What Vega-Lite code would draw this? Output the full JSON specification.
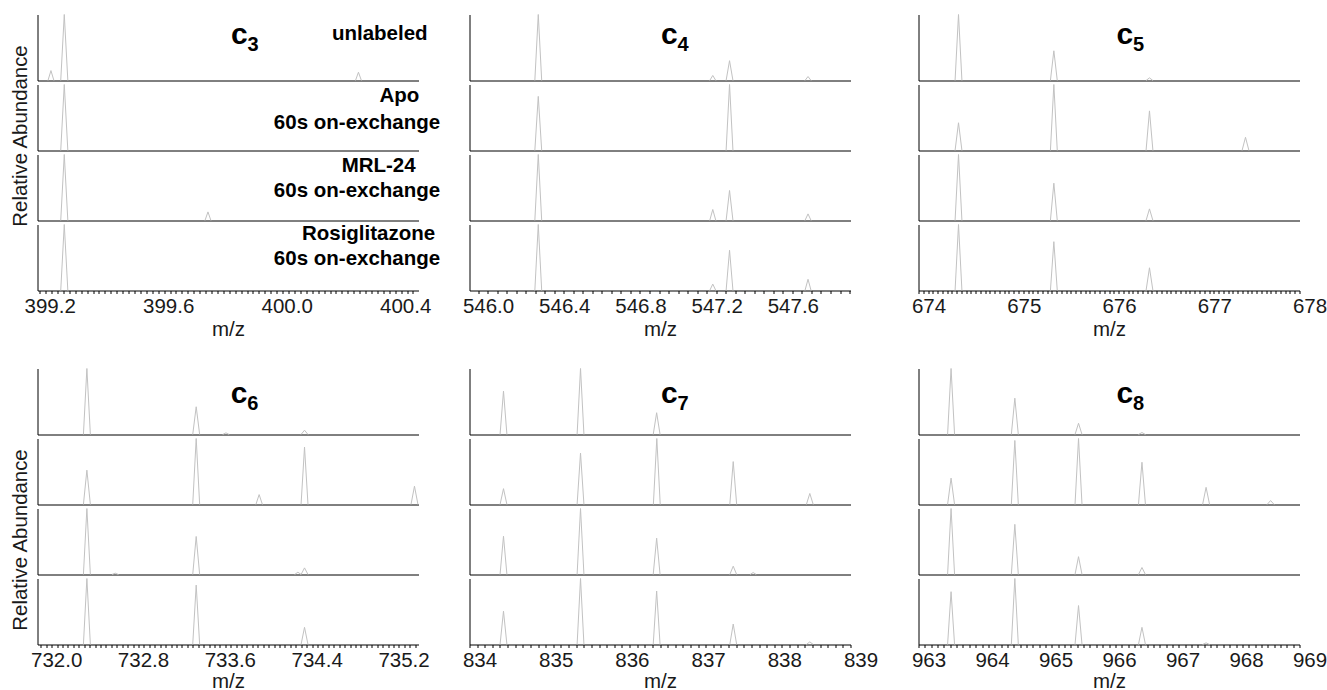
{
"$schema": "https://vega.github.io/schema/vega-lite/v6.json",
"padding": {"left": 10.5, "top": 13.5, "right": 2, "bottom": 0},
"autosize": {"type": "pad"},
"columns": 5,
"spacing": {"row": 4, "column": 0},
"bounds": "flush",
"config": {
 "view": {"stroke": null},
 "font": "Liberation Sans",
 "axis": {"grid": false, "domainColor": "#000", "domainWidth": 1, "ticks": false, "labels": false, "zindex": 1},
 "axisX": {"tickColor": "#000", "tickWidth": 1, "tickSize": 3, "labelFont": "Liberation Sans", "labelFontSize": 20.5, "labelColor": "#1a1a1a", "labelFlush": false, "labelOverlap": false, "labelOffset": 10, "labelPadding": 3, "titleFont": "Liberation Sans", "titleFontSize": 20.5, "titleFontWeight": "normal", "titleColor": "#1a1a1a", "titlePadding": 2},
 "axisY": {"titleFont": "Liberation Sans", "titleFontSize": 20.4, "titleFontWeight": "normal", "titleColor": "#1a1a1a"},
 "rule": {"color": "#c2c2c2", "strokeWidth": 1}
},
"datasets": {"pk": [
{"p":"c3","c":"u","mz":399.238,"lo":399.228,"hi":399.248,"h":0.15},
{"p":"c3","c":"u","mz":399.283,"lo":399.271,"hi":399.295,"h":1},
{"p":"c3","c":"u","mz":400.276,"lo":400.266,"hi":400.286,"h":0.125},
{"p":"c3","c":"a","mz":399.283,"lo":399.271,"hi":399.295,"h":1},
{"p":"c3","c":"m","mz":399.283,"lo":399.271,"hi":399.295,"h":1},
{"p":"c3","c":"m","mz":399.768,"lo":399.758,"hi":399.778,"h":0.13},
{"p":"c3","c":"r","mz":399.283,"lo":399.271,"hi":399.295,"h":1},
{"p":"c4","c":"u","mz":546.316,"lo":546.298,"hi":546.334,"h":1},
{"p":"c4","c":"u","mz":547.232,"lo":547.216,"hi":547.248,"h":0.076},
{"p":"c4","c":"u","mz":547.32,"lo":547.302,"hi":547.338,"h":0.3},
{"p":"c4","c":"u","mz":547.732,"lo":547.716,"hi":547.748,"h":0.06},
{"p":"c4","c":"a","mz":546.316,"lo":546.298,"hi":546.334,"h":0.82},
{"p":"c4","c":"a","mz":547.32,"lo":547.302,"hi":547.338,"h":1},
{"p":"c4","c":"m","mz":546.316,"lo":546.298,"hi":546.334,"h":1},
{"p":"c4","c":"m","mz":547.232,"lo":547.216,"hi":547.248,"h":0.167},
{"p":"c4","c":"m","mz":547.32,"lo":547.302,"hi":547.338,"h":0.455},
{"p":"c4","c":"m","mz":547.732,"lo":547.716,"hi":547.748,"h":0.1},
{"p":"c4","c":"r","mz":546.316,"lo":546.298,"hi":546.334,"h":1},
{"p":"c4","c":"r","mz":547.232,"lo":547.216,"hi":547.248,"h":0.097},
{"p":"c4","c":"r","mz":547.32,"lo":547.302,"hi":547.338,"h":0.61},
{"p":"c4","c":"r","mz":547.732,"lo":547.716,"hi":547.748,"h":0.17},
{"p":"c5","c":"u","mz":674.42,"lo":674.384,"hi":674.456,"h":1},
{"p":"c5","c":"u","mz":675.421,"lo":675.385,"hi":675.457,"h":0.45},
{"p":"c5","c":"u","mz":676.425,"lo":676.389,"hi":676.461,"h":0.04},
{"p":"c5","c":"a","mz":674.42,"lo":674.384,"hi":674.456,"h":0.42},
{"p":"c5","c":"a","mz":675.421,"lo":675.385,"hi":675.457,"h":1},
{"p":"c5","c":"a","mz":676.425,"lo":676.389,"hi":676.461,"h":0.6},
{"p":"c5","c":"a","mz":677.433,"lo":677.397,"hi":677.469,"h":0.2},
{"p":"c5","c":"m","mz":674.42,"lo":674.384,"hi":674.456,"h":1},
{"p":"c5","c":"m","mz":675.421,"lo":675.385,"hi":675.457,"h":0.565},
{"p":"c5","c":"m","mz":676.425,"lo":676.389,"hi":676.461,"h":0.176},
{"p":"c5","c":"r","mz":674.42,"lo":674.384,"hi":674.456,"h":1},
{"p":"c5","c":"r","mz":675.421,"lo":675.385,"hi":675.457,"h":0.74},
{"p":"c5","c":"r","mz":676.425,"lo":676.389,"hi":676.461,"h":0.344},
{"p":"c6","c":"u","mz":732.375,"lo":732.343,"hi":732.407,"h":1},
{"p":"c6","c":"u","mz":733.382,"lo":733.35,"hi":733.414,"h":0.42},
{"p":"c6","c":"u","mz":733.656,"lo":733.626,"hi":733.686,"h":0.025},
{"p":"c6","c":"u","mz":734.38,"lo":734.348,"hi":734.412,"h":0.065},
{"p":"c6","c":"a","mz":732.375,"lo":732.343,"hi":732.407,"h":0.52},
{"p":"c6","c":"a","mz":733.382,"lo":733.35,"hi":733.414,"h":1},
{"p":"c6","c":"a","mz":733.962,"lo":733.932,"hi":733.992,"h":0.15},
{"p":"c6","c":"a","mz":734.38,"lo":734.348,"hi":734.412,"h":0.87},
{"p":"c6","c":"a","mz":735.393,"lo":735.361,"hi":735.425,"h":0.277},
{"p":"c6","c":"m","mz":732.375,"lo":732.343,"hi":732.407,"h":1},
{"p":"c6","c":"m","mz":732.636,"lo":732.606,"hi":732.666,"h":0.02},
{"p":"c6","c":"m","mz":733.382,"lo":733.35,"hi":733.414,"h":0.576},
{"p":"c6","c":"m","mz":734.319,"lo":734.289,"hi":734.349,"h":0.035},
{"p":"c6","c":"m","mz":734.38,"lo":734.348,"hi":734.412,"h":0.1},
{"p":"c6","c":"r","mz":732.375,"lo":732.343,"hi":732.407,"h":1},
{"p":"c6","c":"r","mz":733.382,"lo":733.35,"hi":733.414,"h":0.9},
{"p":"c6","c":"r","mz":734.38,"lo":734.348,"hi":734.412,"h":0.26},
{"p":"c7","c":"u","mz":834.446,"lo":834.401,"hi":834.491,"h":0.657},
{"p":"c7","c":"u","mz":835.457,"lo":835.412,"hi":835.502,"h":1},
{"p":"c7","c":"u","mz":836.456,"lo":836.411,"hi":836.501,"h":0.33},
{"p":"c7","c":"a","mz":834.446,"lo":834.401,"hi":834.491,"h":0.24},
{"p":"c7","c":"a","mz":835.457,"lo":835.412,"hi":835.502,"h":0.78},
{"p":"c7","c":"a","mz":836.458,"lo":836.413,"hi":836.503,"h":1},
{"p":"c7","c":"a","mz":837.461,"lo":837.416,"hi":837.506,"h":0.65},
{"p":"c7","c":"a","mz":838.466,"lo":838.421,"hi":838.511,"h":0.167},
{"p":"c7","c":"m","mz":834.446,"lo":834.401,"hi":834.491,"h":0.58},
{"p":"c7","c":"m","mz":835.457,"lo":835.412,"hi":835.502,"h":1},
{"p":"c7","c":"m","mz":836.456,"lo":836.411,"hi":836.501,"h":0.55},
{"p":"c7","c":"m","mz":837.461,"lo":837.416,"hi":837.506,"h":0.126},
{"p":"c7","c":"m","mz":837.723,"lo":837.683,"hi":837.763,"h":0.03},
{"p":"c7","c":"r","mz":834.446,"lo":834.401,"hi":834.491,"h":0.505},
{"p":"c7","c":"r","mz":835.457,"lo":835.412,"hi":835.502,"h":1},
{"p":"c7","c":"r","mz":836.456,"lo":836.411,"hi":836.501,"h":0.81},
{"p":"c7","c":"r","mz":837.461,"lo":837.416,"hi":837.506,"h":0.31},
{"p":"c7","c":"r","mz":838.466,"lo":838.421,"hi":838.511,"h":0.04},
{"p":"c8","c":"u","mz":963.513,"lo":963.458,"hi":963.568,"h":1},
{"p":"c8","c":"u","mz":964.517,"lo":964.462,"hi":964.572,"h":0.55},
{"p":"c8","c":"u","mz":965.52,"lo":965.465,"hi":965.575,"h":0.17},
{"p":"c8","c":"u","mz":966.519,"lo":966.464,"hi":966.574,"h":0.03},
{"p":"c8","c":"a","mz":963.513,"lo":963.458,"hi":963.568,"h":0.4},
{"p":"c8","c":"a","mz":964.517,"lo":964.462,"hi":964.572,"h":0.97},
{"p":"c8","c":"a","mz":965.52,"lo":965.465,"hi":965.575,"h":1},
{"p":"c8","c":"a","mz":966.519,"lo":966.464,"hi":966.574,"h":0.64},
{"p":"c8","c":"a","mz":967.529,"lo":967.474,"hi":967.584,"h":0.26},
{"p":"c8","c":"a","mz":968.545,"lo":968.49,"hi":968.6,"h":0.06},
{"p":"c8","c":"m","mz":963.513,"lo":963.458,"hi":963.568,"h":1},
{"p":"c8","c":"m","mz":964.517,"lo":964.462,"hi":964.572,"h":0.76},
{"p":"c8","c":"m","mz":965.52,"lo":965.465,"hi":965.575,"h":0.27},
{"p":"c8","c":"m","mz":966.519,"lo":966.464,"hi":966.574,"h":0.106},
{"p":"c8","c":"r","mz":963.513,"lo":963.458,"hi":963.568,"h":0.8},
{"p":"c8","c":"r","mz":964.517,"lo":964.462,"hi":964.572,"h":1},
{"p":"c8","c":"r","mz":965.52,"lo":965.465,"hi":965.575,"h":0.59},
{"p":"c8","c":"r","mz":966.519,"lo":966.464,"hi":966.574,"h":0.26},
{"p":"c8","c":"r","mz":967.529,"lo":967.474,"hi":967.584,"h":0.025}
]},
"concat": [
{"width":381,"height":66,"layer":[
 {"data":{"name":"pk"},"transform":[{"filter":"datum.p=='c3'&&datum.c=='u'"}],"mark":"rule","encoding":{"x":{"field":"mz","type":"quantitative","scale":{"domain":[399.1926,400.4787],"nice":false,"zero":false},"axis":{"title":null}},"x2":{"field":"lo"},"y":{"field":"h","type":"quantitative","scale":{"domain":[0,1],"nice":false},"axis":{"title":"Relative Abundance","titleX":-16.6,"titleY":121,"titleBaseline":"middle"}},"y2":{"datum":0}}},
 {"data":{"name":"pk"},"transform":[{"filter":"datum.p=='c3'&&datum.c=='u'"}],"mark":"rule","encoding":{"x":{"field":"mz","type":"quantitative"},"x2":{"field":"hi"},"y":{"field":"h","type":"quantitative"},"y2":{"datum":0}}},
 {"data":{"values":[{"k":1}]},"mark":{"type":"text","align":"right","baseline":"alphabetic","font":"Liberation Sans","fontWeight":"bold","fontSize":20.5,"fill":"#000"},"encoding":{"text":{"value":"unlabeled"},"x":{"datum":400.5094,"type":"quantitative"},"y":{"datum":0.617,"type":"quantitative"}}},
 {"data":{"values":[{"k":1}]},"mark":{"type":"text","align":"left","baseline":"alphabetic","font":"Liberation Sans","fontWeight":"bold","fontSize":30,"fill":"#000"},"encoding":{"text":{"value":"c"},"x":{"datum":399.8458,"type":"quantitative"},"y":{"datum":0.556,"type":"quantitative"}}},
 {"data":{"values":[{"k":1}]},"mark":{"type":"text","align":"left","baseline":"alphabetic","font":"Liberation Sans","fontWeight":"bold","fontSize":20,"fill":"#000","dx":16.5,"dy":7.5},"encoding":{"text":{"value":"3"},"x":{"datum":399.8458,"type":"quantitative"},"y":{"datum":0.556,"type":"quantitative"}}}]},
{"data":{"values":[]},"mark":"point","width":51,"height":1},
{"width":381,"height":66,"layer":[
 {"data":{"name":"pk"},"transform":[{"filter":"datum.p=='c4'&&datum.c=='u'"}],"mark":"rule","encoding":{"x":{"field":"mz","type":"quantitative","scale":{"domain":[545.955,547.955],"nice":false,"zero":false},"axis":{"title":null}},"x2":{"field":"lo"},"y":{"field":"h","type":"quantitative","scale":{"domain":[0,1],"nice":false},"axis":{"title":null}},"y2":{"datum":0}}},
 {"data":{"name":"pk"},"transform":[{"filter":"datum.p=='c4'&&datum.c=='u'"}],"mark":"rule","encoding":{"x":{"field":"mz","type":"quantitative"},"x2":{"field":"hi"},"y":{"field":"h","type":"quantitative"},"y2":{"datum":0}}},
 {"data":{"values":[{"k":1}]},"mark":{"type":"text","align":"left","baseline":"alphabetic","font":"Liberation Sans","fontWeight":"bold","fontSize":30,"fill":"#000"},"encoding":{"text":{"value":"c"},"x":{"datum":546.9603,"type":"quantitative"},"y":{"datum":0.556,"type":"quantitative"}}},
 {"data":{"values":[{"k":1}]},"mark":{"type":"text","align":"left","baseline":"alphabetic","font":"Liberation Sans","fontWeight":"bold","fontSize":20,"fill":"#000","dx":16.5,"dy":7.5},"encoding":{"text":{"value":"4"},"x":{"datum":546.9603,"type":"quantitative"},"y":{"datum":0.556,"type":"quantitative"}}}]},
{"data":{"values":[]},"mark":"point","width":68,"height":1},
{"width":381,"height":66,"layer":[
 {"data":{"name":"pk"},"transform":[{"filter":"datum.p=='c5'&&datum.c=='u'"}],"mark":"rule","encoding":{"x":{"field":"mz","type":"quantitative","scale":{"domain":[674,678],"nice":false,"zero":false},"axis":{"title":null}},"x2":{"field":"lo"},"y":{"field":"h","type":"quantitative","scale":{"domain":[0,1],"nice":false},"axis":{"title":null}},"y2":{"datum":0}}},
 {"data":{"name":"pk"},"transform":[{"filter":"datum.p=='c5'&&datum.c=='u'"}],"mark":"rule","encoding":{"x":{"field":"mz","type":"quantitative"},"x2":{"field":"hi"},"y":{"field":"h","type":"quantitative"},"y2":{"datum":0}}},
 {"data":{"values":[{"k":1}]},"mark":{"type":"text","align":"left","baseline":"alphabetic","font":"Liberation Sans","fontWeight":"bold","fontSize":30,"fill":"#000"},"encoding":{"text":{"value":"c"},"x":{"datum":676.0798,"type":"quantitative"},"y":{"datum":0.556,"type":"quantitative"}}},
 {"data":{"values":[{"k":1}]},"mark":{"type":"text","align":"left","baseline":"alphabetic","font":"Liberation Sans","fontWeight":"bold","fontSize":20,"fill":"#000","dx":16.5,"dy":7.5},"encoding":{"text":{"value":"5"},"x":{"datum":676.0798,"type":"quantitative"},"y":{"datum":0.556,"type":"quantitative"}}}]},

{"width":381,"height":66,"layer":[
 {"data":{"name":"pk"},"transform":[{"filter":"datum.p=='c3'&&datum.c=='a'"}],"mark":"rule","encoding":{"x":{"field":"mz","type":"quantitative","scale":{"domain":[399.1926,400.4787],"nice":false,"zero":false},"axis":{"title":null}},"x2":{"field":"lo"},"y":{"field":"h","type":"quantitative","scale":{"domain":[0,1],"nice":false},"axis":{"title":null}},"y2":{"datum":0}}},
 {"data":{"name":"pk"},"transform":[{"filter":"datum.p=='c3'&&datum.c=='a'"}],"mark":"rule","encoding":{"x":{"field":"mz","type":"quantitative"},"x2":{"field":"hi"},"y":{"field":"h","type":"quantitative"},"y2":{"datum":0}}},
 {"data":{"values":[{"k":1}]},"mark":{"type":"text","align":"right","baseline":"alphabetic","font":"Liberation Sans","fontWeight":"bold","fontSize":20.5,"fill":"#000"},"encoding":{"text":{"value":"Apo"},"x":{"datum":400.4817,"type":"quantitative"},"y":{"datum":0.732,"type":"quantitative"}}},
 {"data":{"values":[{"k":1}]},"mark":{"type":"text","align":"right","baseline":"alphabetic","font":"Liberation Sans","fontWeight":"bold","fontSize":20.5,"fill":"#000"},"encoding":{"text":{"value":"60s on-exchange"},"x":{"datum":400.552,"type":"quantitative"},"y":{"datum":0.329,"type":"quantitative"}}}]},
{"data":{"values":[]},"mark":"point","width":1,"height":1},
{"width":381,"height":66,"layer":[
 {"data":{"name":"pk"},"transform":[{"filter":"datum.p=='c4'&&datum.c=='a'"}],"mark":"rule","encoding":{"x":{"field":"mz","type":"quantitative","scale":{"domain":[545.955,547.955],"nice":false,"zero":false},"axis":{"title":null}},"x2":{"field":"lo"},"y":{"field":"h","type":"quantitative","scale":{"domain":[0,1],"nice":false},"axis":{"title":null}},"y2":{"datum":0}}},
 {"data":{"name":"pk"},"transform":[{"filter":"datum.p=='c4'&&datum.c=='a'"}],"mark":"rule","encoding":{"x":{"field":"mz","type":"quantitative"},"x2":{"field":"hi"},"y":{"field":"h","type":"quantitative"},"y2":{"datum":0}}}]},
{"data":{"values":[]},"mark":"point","width":1,"height":1},
{"width":381,"height":66,"layer":[
 {"data":{"name":"pk"},"transform":[{"filter":"datum.p=='c5'&&datum.c=='a'"}],"mark":"rule","encoding":{"x":{"field":"mz","type":"quantitative","scale":{"domain":[674,678],"nice":false,"zero":false},"axis":{"title":null}},"x2":{"field":"lo"},"y":{"field":"h","type":"quantitative","scale":{"domain":[0,1],"nice":false},"axis":{"title":null}},"y2":{"datum":0}}},
 {"data":{"name":"pk"},"transform":[{"filter":"datum.p=='c5'&&datum.c=='a'"}],"mark":"rule","encoding":{"x":{"field":"mz","type":"quantitative"},"x2":{"field":"hi"},"y":{"field":"h","type":"quantitative"},"y2":{"datum":0}}}]},

{"width":381,"height":66,"layer":[
 {"data":{"name":"pk"},"transform":[{"filter":"datum.p=='c3'&&datum.c=='m'"}],"mark":"rule","encoding":{"x":{"field":"mz","type":"quantitative","scale":{"domain":[399.1926,400.4787],"nice":false,"zero":false},"axis":{"title":null}},"x2":{"field":"lo"},"y":{"field":"h","type":"quantitative","scale":{"domain":[0,1],"nice":false},"axis":{"title":null}},"y2":{"datum":0}}},
 {"data":{"name":"pk"},"transform":[{"filter":"datum.p=='c3'&&datum.c=='m'"}],"mark":"rule","encoding":{"x":{"field":"mz","type":"quantitative"},"x2":{"field":"hi"},"y":{"field":"h","type":"quantitative"},"y2":{"datum":0}}},
 {"data":{"values":[{"k":1}]},"mark":{"type":"text","align":"right","baseline":"alphabetic","font":"Liberation Sans","fontWeight":"bold","fontSize":20.5,"fill":"#000"},"encoding":{"text":{"value":"MRL-24"},"x":{"datum":400.4692,"type":"quantitative"},"y":{"datum":0.732,"type":"quantitative"}}},
 {"data":{"values":[{"k":1}]},"mark":{"type":"text","align":"right","baseline":"alphabetic","font":"Liberation Sans","fontWeight":"bold","fontSize":20.5,"fill":"#000"},"encoding":{"text":{"value":"60s on-exchange"},"x":{"datum":400.552,"type":"quantitative"},"y":{"datum":0.353,"type":"quantitative"}}}]},
{"data":{"values":[]},"mark":"point","width":1,"height":1},
{"width":381,"height":66,"layer":[
 {"data":{"name":"pk"},"transform":[{"filter":"datum.p=='c4'&&datum.c=='m'"}],"mark":"rule","encoding":{"x":{"field":"mz","type":"quantitative","scale":{"domain":[545.955,547.955],"nice":false,"zero":false},"axis":{"title":null}},"x2":{"field":"lo"},"y":{"field":"h","type":"quantitative","scale":{"domain":[0,1],"nice":false},"axis":{"title":null}},"y2":{"datum":0}}},
 {"data":{"name":"pk"},"transform":[{"filter":"datum.p=='c4'&&datum.c=='m'"}],"mark":"rule","encoding":{"x":{"field":"mz","type":"quantitative"},"x2":{"field":"hi"},"y":{"field":"h","type":"quantitative"},"y2":{"datum":0}}}]},
{"data":{"values":[]},"mark":"point","width":1,"height":1},
{"width":381,"height":66,"layer":[
 {"data":{"name":"pk"},"transform":[{"filter":"datum.p=='c5'&&datum.c=='m'"}],"mark":"rule","encoding":{"x":{"field":"mz","type":"quantitative","scale":{"domain":[674,678],"nice":false,"zero":false},"axis":{"title":null}},"x2":{"field":"lo"},"y":{"field":"h","type":"quantitative","scale":{"domain":[0,1],"nice":false},"axis":{"title":null}},"y2":{"datum":0}}},
 {"data":{"name":"pk"},"transform":[{"filter":"datum.p=='c5'&&datum.c=='m'"}],"mark":"rule","encoding":{"x":{"field":"mz","type":"quantitative"},"x2":{"field":"hi"},"y":{"field":"h","type":"quantitative"},"y2":{"datum":0}}}]},

{"width":381,"height":66,"layer":[
 {"data":{"name":"pk"},"transform":[{"filter":"datum.p=='c3'&&datum.c=='r'"}],"mark":"rule","encoding":{"x":{"field":"mz","type":"quantitative","scale":{"domain":[399.1926,400.4787],"nice":false,"zero":false},"axis":{"title":"m/z","labels":true,"ticks":true,"tickCount":64,"labelExpr":"abs(datum.value/0.4-round(datum.value/0.4))<0.001?format(datum.value,'.1f'):''"}},"x2":{"field":"lo"},"y":{"field":"h","type":"quantitative","scale":{"domain":[0,1],"nice":false},"axis":{"title":null}},"y2":{"datum":0}}},
 {"data":{"name":"pk"},"transform":[{"filter":"datum.p=='c3'&&datum.c=='r'"}],"mark":"rule","encoding":{"x":{"field":"mz","type":"quantitative"},"x2":{"field":"hi"},"y":{"field":"h","type":"quantitative"},"y2":{"datum":0}}},
 {"data":{"values":[{"k":1}]},"mark":{"type":"text","align":"right","baseline":"alphabetic","font":"Liberation Sans","fontWeight":"bold","fontSize":20.5,"fill":"#000"},"encoding":{"text":{"value":"Rosiglitazone"},"x":{"datum":400.535,"type":"quantitative"},"y":{"datum":0.758,"type":"quantitative"}}},
 {"data":{"values":[{"k":1}]},"mark":{"type":"text","align":"right","baseline":"alphabetic","font":"Liberation Sans","fontWeight":"bold","fontSize":20.5,"fill":"#000"},"encoding":{"text":{"value":"60s on-exchange"},"x":{"datum":400.552,"type":"quantitative"},"y":{"datum":0.379,"type":"quantitative"}}}]},
{"data":{"values":[]},"mark":"point","width":1,"height":1},
{"width":381,"height":66,"layer":[
 {"data":{"name":"pk"},"transform":[{"filter":"datum.p=='c4'&&datum.c=='r'"}],"mark":"rule","encoding":{"x":{"field":"mz","type":"quantitative","scale":{"domain":[545.955,547.955],"nice":false,"zero":false},"axis":{"title":"m/z","labels":true,"ticks":true,"tickCount":40,"labelExpr":"abs(datum.value/0.4-round(datum.value/0.4))<0.001?format(datum.value,'.1f'):''"}},"x2":{"field":"lo"},"y":{"field":"h","type":"quantitative","scale":{"domain":[0,1],"nice":false},"axis":{"title":null}},"y2":{"datum":0}}},
 {"data":{"name":"pk"},"transform":[{"filter":"datum.p=='c4'&&datum.c=='r'"}],"mark":"rule","encoding":{"x":{"field":"mz","type":"quantitative"},"x2":{"field":"hi"},"y":{"field":"h","type":"quantitative"},"y2":{"datum":0}}}]},
{"data":{"values":[]},"mark":"point","width":1,"height":1},
{"width":381,"height":66,"layer":[
 {"data":{"name":"pk"},"transform":[{"filter":"datum.p=='c5'&&datum.c=='r'"}],"mark":"rule","encoding":{"x":{"field":"mz","type":"quantitative","scale":{"domain":[674,678],"nice":false,"zero":false},"axis":{"title":"m/z","labels":true,"ticks":true,"tickCount":80,"labelExpr":"abs(datum.value-round(datum.value))<0.001?format(datum.value,'.0f'):''"}},"x2":{"field":"lo"},"y":{"field":"h","type":"quantitative","scale":{"domain":[0,1],"nice":false},"axis":{"title":null}},"y2":{"datum":0}}},
 {"data":{"name":"pk"},"transform":[{"filter":"datum.p=='c5'&&datum.c=='r'"}],"mark":"rule","encoding":{"x":{"field":"mz","type":"quantitative"},"x2":{"field":"hi"},"y":{"field":"h","type":"quantitative"},"y2":{"datum":0}}}]},

{"data":{"values":[]},"mark":"point","width":1,"height":70},
{"data":{"values":[]},"mark":"point","width":1,"height":1},
{"data":{"values":[]},"mark":"point","width":1,"height":1},
{"data":{"values":[]},"mark":"point","width":1,"height":1},
{"data":{"values":[]},"mark":"point","width":1,"height":1},

{"width":381,"height":66,"layer":[
 {"data":{"name":"pk"},"transform":[{"filter":"datum.p=='c6'&&datum.c=='u'"}],"mark":"rule","encoding":{"x":{"field":"mz","type":"quantitative","scale":{"domain":[731.92,735.43],"nice":false,"zero":false},"axis":{"title":null}},"x2":{"field":"lo"},"y":{"field":"h","type":"quantitative","scale":{"domain":[0,1],"nice":false},"axis":{"title":"Relative Abundance","titleX":-16.6,"titleY":171,"titleBaseline":"middle"}},"y2":{"datum":0}}},
 {"data":{"name":"pk"},"transform":[{"filter":"datum.p=='c6'&&datum.c=='u'"}],"mark":"rule","encoding":{"x":{"field":"mz","type":"quantitative"},"x2":{"field":"hi"},"y":{"field":"h","type":"quantitative"},"y2":{"datum":0}}},
 {"data":{"values":[{"k":1}]},"mark":{"type":"text","align":"left","baseline":"alphabetic","font":"Liberation Sans","fontWeight":"bold","fontSize":30,"fill":"#000"},"encoding":{"text":{"value":"c"},"x":{"datum":733.7,"type":"quantitative"},"y":{"datum":0.48,"type":"quantitative"}}},
 {"data":{"values":[{"k":1}]},"mark":{"type":"text","align":"left","baseline":"alphabetic","font":"Liberation Sans","fontWeight":"bold","fontSize":20,"fill":"#000","dx":16.5,"dy":7.5},"encoding":{"text":{"value":"6"},"x":{"datum":733.7,"type":"quantitative"},"y":{"datum":0.48,"type":"quantitative"}}}]},
{"data":{"values":[]},"mark":"point","width":1,"height":1},
{"width":381,"height":66,"layer":[
 {"data":{"name":"pk"},"transform":[{"filter":"datum.p=='c7'&&datum.c=='u'"}],"mark":"rule","encoding":{"x":{"field":"mz","type":"quantitative","scale":{"domain":[834,839],"nice":false,"zero":false},"axis":{"title":null}},"x2":{"field":"lo"},"y":{"field":"h","type":"quantitative","scale":{"domain":[0,1],"nice":false},"axis":{"title":null}},"y2":{"datum":0}}},
 {"data":{"name":"pk"},"transform":[{"filter":"datum.p=='c7'&&datum.c=='u'"}],"mark":"rule","encoding":{"x":{"field":"mz","type":"quantitative"},"x2":{"field":"hi"},"y":{"field":"h","type":"quantitative"},"y2":{"datum":0}}},
 {"data":{"values":[{"k":1}]},"mark":{"type":"text","align":"left","baseline":"alphabetic","font":"Liberation Sans","fontWeight":"bold","fontSize":30,"fill":"#000"},"encoding":{"text":{"value":"c"},"x":{"datum":836.513,"type":"quantitative"},"y":{"datum":0.48,"type":"quantitative"}}},
 {"data":{"values":[{"k":1}]},"mark":{"type":"text","align":"left","baseline":"alphabetic","font":"Liberation Sans","fontWeight":"bold","fontSize":20,"fill":"#000","dx":16.5,"dy":7.5},"encoding":{"text":{"value":"7"},"x":{"datum":836.513,"type":"quantitative"},"y":{"datum":0.48,"type":"quantitative"}}}]},
{"data":{"values":[]},"mark":"point","width":1,"height":1},
{"width":381,"height":66,"layer":[
 {"data":{"name":"pk"},"transform":[{"filter":"datum.p=='c8'&&datum.c=='u'"}],"mark":"rule","encoding":{"x":{"field":"mz","type":"quantitative","scale":{"domain":[963,969],"nice":false,"zero":false},"axis":{"title":null}},"x2":{"field":"lo"},"y":{"field":"h","type":"quantitative","scale":{"domain":[0,1],"nice":false},"axis":{"title":null}},"y2":{"datum":0}}},
 {"data":{"name":"pk"},"transform":[{"filter":"datum.p=='c8'&&datum.c=='u'"}],"mark":"rule","encoding":{"x":{"field":"mz","type":"quantitative"},"x2":{"field":"hi"},"y":{"field":"h","type":"quantitative"},"y2":{"datum":0}}},
 {"data":{"values":[{"k":1}]},"mark":{"type":"text","align":"left","baseline":"alphabetic","font":"Liberation Sans","fontWeight":"bold","fontSize":30,"fill":"#000"},"encoding":{"text":{"value":"c"},"x":{"datum":966.12,"type":"quantitative"},"y":{"datum":0.48,"type":"quantitative"}}},
 {"data":{"values":[{"k":1}]},"mark":{"type":"text","align":"left","baseline":"alphabetic","font":"Liberation Sans","fontWeight":"bold","fontSize":20,"fill":"#000","dx":16.5,"dy":7.5},"encoding":{"text":{"value":"8"},"x":{"datum":966.12,"type":"quantitative"},"y":{"datum":0.48,"type":"quantitative"}}}]},

{"width":381,"height":66,"layer":[
 {"data":{"name":"pk"},"transform":[{"filter":"datum.p=='c6'&&datum.c=='a'"}],"mark":"rule","encoding":{"x":{"field":"mz","type":"quantitative","scale":{"domain":[731.92,735.43],"nice":false,"zero":false},"axis":{"title":null}},"x2":{"field":"lo"},"y":{"field":"h","type":"quantitative","scale":{"domain":[0,1],"nice":false},"axis":{"title":null}},"y2":{"datum":0}}},
 {"data":{"name":"pk"},"transform":[{"filter":"datum.p=='c6'&&datum.c=='a'"}],"mark":"rule","encoding":{"x":{"field":"mz","type":"quantitative"},"x2":{"field":"hi"},"y":{"field":"h","type":"quantitative"},"y2":{"datum":0}}}]},
{"data":{"values":[]},"mark":"point","width":1,"height":1},
{"width":381,"height":66,"layer":[
 {"data":{"name":"pk"},"transform":[{"filter":"datum.p=='c7'&&datum.c=='a'"}],"mark":"rule","encoding":{"x":{"field":"mz","type":"quantitative","scale":{"domain":[834,839],"nice":false,"zero":false},"axis":{"title":null}},"x2":{"field":"lo"},"y":{"field":"h","type":"quantitative","scale":{"domain":[0,1],"nice":false},"axis":{"title":null}},"y2":{"datum":0}}},
 {"data":{"name":"pk"},"transform":[{"filter":"datum.p=='c7'&&datum.c=='a'"}],"mark":"rule","encoding":{"x":{"field":"mz","type":"quantitative"},"x2":{"field":"hi"},"y":{"field":"h","type":"quantitative"},"y2":{"datum":0}}}]},
{"data":{"values":[]},"mark":"point","width":1,"height":1},
{"width":381,"height":66,"layer":[
 {"data":{"name":"pk"},"transform":[{"filter":"datum.p=='c8'&&datum.c=='a'"}],"mark":"rule","encoding":{"x":{"field":"mz","type":"quantitative","scale":{"domain":[963,969],"nice":false,"zero":false},"axis":{"title":null}},"x2":{"field":"lo"},"y":{"field":"h","type":"quantitative","scale":{"domain":[0,1],"nice":false},"axis":{"title":null}},"y2":{"datum":0}}},
 {"data":{"name":"pk"},"transform":[{"filter":"datum.p=='c8'&&datum.c=='a'"}],"mark":"rule","encoding":{"x":{"field":"mz","type":"quantitative"},"x2":{"field":"hi"},"y":{"field":"h","type":"quantitative"},"y2":{"datum":0}}}]},

{"width":381,"height":66,"layer":[
 {"data":{"name":"pk"},"transform":[{"filter":"datum.p=='c6'&&datum.c=='m'"}],"mark":"rule","encoding":{"x":{"field":"mz","type":"quantitative","scale":{"domain":[731.92,735.43],"nice":false,"zero":false},"axis":{"title":null}},"x2":{"field":"lo"},"y":{"field":"h","type":"quantitative","scale":{"domain":[0,1],"nice":false},"axis":{"title":null}},"y2":{"datum":0}}},
 {"data":{"name":"pk"},"transform":[{"filter":"datum.p=='c6'&&datum.c=='m'"}],"mark":"rule","encoding":{"x":{"field":"mz","type":"quantitative"},"x2":{"field":"hi"},"y":{"field":"h","type":"quantitative"},"y2":{"datum":0}}}]},
{"data":{"values":[]},"mark":"point","width":1,"height":1},
{"width":381,"height":66,"layer":[
 {"data":{"name":"pk"},"transform":[{"filter":"datum.p=='c7'&&datum.c=='m'"}],"mark":"rule","encoding":{"x":{"field":"mz","type":"quantitative","scale":{"domain":[834,839],"nice":false,"zero":false},"axis":{"title":null}},"x2":{"field":"lo"},"y":{"field":"h","type":"quantitative","scale":{"domain":[0,1],"nice":false},"axis":{"title":null}},"y2":{"datum":0}}},
 {"data":{"name":"pk"},"transform":[{"filter":"datum.p=='c7'&&datum.c=='m'"}],"mark":"rule","encoding":{"x":{"field":"mz","type":"quantitative"},"x2":{"field":"hi"},"y":{"field":"h","type":"quantitative"},"y2":{"datum":0}}}]},
{"data":{"values":[]},"mark":"point","width":1,"height":1},
{"width":381,"height":66,"layer":[
 {"data":{"name":"pk"},"transform":[{"filter":"datum.p=='c8'&&datum.c=='m'"}],"mark":"rule","encoding":{"x":{"field":"mz","type":"quantitative","scale":{"domain":[963,969],"nice":false,"zero":false},"axis":{"title":null}},"x2":{"field":"lo"},"y":{"field":"h","type":"quantitative","scale":{"domain":[0,1],"nice":false},"axis":{"title":null}},"y2":{"datum":0}}},
 {"data":{"name":"pk"},"transform":[{"filter":"datum.p=='c8'&&datum.c=='m'"}],"mark":"rule","encoding":{"x":{"field":"mz","type":"quantitative"},"x2":{"field":"hi"},"y":{"field":"h","type":"quantitative"},"y2":{"datum":0}}}]},

{"width":381,"height":66,"layer":[
 {"data":{"name":"pk"},"transform":[{"filter":"datum.p=='c6'&&datum.c=='r'"}],"mark":"rule","encoding":{"x":{"field":"mz","type":"quantitative","scale":{"domain":[731.92,735.43],"nice":false,"zero":false},"axis":{"title":"m/z","titlePadding":0,"labels":true,"ticks":true,"tickCount":70,"labelExpr":"abs(datum.value/0.8-round(datum.value/0.8))<0.001?format(datum.value,'.1f'):''"}},"x2":{"field":"lo"},"y":{"field":"h","type":"quantitative","scale":{"domain":[0,1],"nice":false},"axis":{"title":null}},"y2":{"datum":0}}},
 {"data":{"name":"pk"},"transform":[{"filter":"datum.p=='c6'&&datum.c=='r'"}],"mark":"rule","encoding":{"x":{"field":"mz","type":"quantitative"},"x2":{"field":"hi"},"y":{"field":"h","type":"quantitative"},"y2":{"datum":0}}}]},
{"data":{"values":[]},"mark":"point","width":1,"height":1},
{"width":381,"height":66,"layer":[
 {"data":{"name":"pk"},"transform":[{"filter":"datum.p=='c7'&&datum.c=='r'"}],"mark":"rule","encoding":{"x":{"field":"mz","type":"quantitative","scale":{"domain":[834,839],"nice":false,"zero":false},"axis":{"title":"m/z","titlePadding":0,"labels":true,"ticks":true,"tickCount":50,"labelExpr":"abs(datum.value-round(datum.value))<0.001?format(datum.value,'.0f'):''"}},"x2":{"field":"lo"},"y":{"field":"h","type":"quantitative","scale":{"domain":[0,1],"nice":false},"axis":{"title":null}},"y2":{"datum":0}}},
 {"data":{"name":"pk"},"transform":[{"filter":"datum.p=='c7'&&datum.c=='r'"}],"mark":"rule","encoding":{"x":{"field":"mz","type":"quantitative"},"x2":{"field":"hi"},"y":{"field":"h","type":"quantitative"},"y2":{"datum":0}}}]},
{"data":{"values":[]},"mark":"point","width":1,"height":1},
{"width":381,"height":66,"layer":[
 {"data":{"name":"pk"},"transform":[{"filter":"datum.p=='c8'&&datum.c=='r'"}],"mark":"rule","encoding":{"x":{"field":"mz","type":"quantitative","scale":{"domain":[963,969],"nice":false,"zero":false},"axis":{"title":"m/z","titlePadding":0,"labels":true,"ticks":true,"tickCount":60,"labelExpr":"abs(datum.value-round(datum.value))<0.001?format(datum.value,'.0f'):''"}},"x2":{"field":"lo"},"y":{"field":"h","type":"quantitative","scale":{"domain":[0,1],"nice":false},"axis":{"title":null}},"y2":{"datum":0}}},
 {"data":{"name":"pk"},"transform":[{"filter":"datum.p=='c8'&&datum.c=='r'"}],"mark":"rule","encoding":{"x":{"field":"mz","type":"quantitative"},"x2":{"field":"hi"},"y":{"field":"h","type":"quantitative"},"y2":{"datum":0}}}]}
]
}
